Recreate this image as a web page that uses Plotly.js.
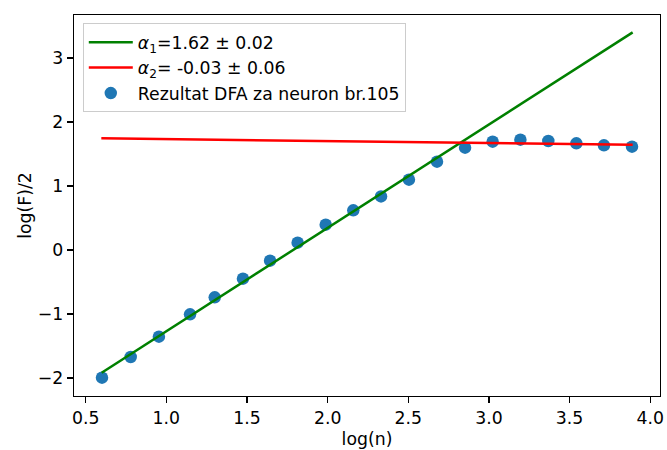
<!DOCTYPE html>
<html>
<head>
<meta charset="utf-8">
<script src="https://cdn.plot.ly/plotly-3.0.1.min.js"></script>
<style>html,body{margin:0;padding:0;background:#fff;}#chart{width:667px;height:450px;}</style>
</head>
<body>
<div id="chart"></div>
<script>
// Data
const logN = [0.601, 0.779, 0.954, 1.147, 1.300, 1.475, 1.643, 1.814, 1.988, 2.159,
              2.331, 2.504, 2.678, 2.852, 3.023, 3.195, 3.368, 3.542, 3.713, 3.887];
const logF = [-1.995, -1.672, -1.354, -1.005, -0.740, -0.448, -0.167, 0.115, 0.396, 0.620,
              0.838, 1.099, 1.380, 1.599, 1.693, 1.724, 1.703, 1.667, 1.636, 1.615];
const fit1X = [0.599, 3.891];
const fit1Y = [-1.917, 3.400];
const fit2X = [0.597, 3.891];
const fit2Y = [1.745, 1.646];
const labels = [
  '<i>α</i><sub>1</sub>=1.62 ± 0.02',
  '<i>α</i><sub>2</sub>= -0.03 ± 0.06',
  'Rezultat DFA za neuron br.105'
];
const xTicks = [0.5, 1.0, 1.5, 2.0, 2.5, 3.0, 3.5, 4.0];
const xTickText = ['0.5', '1.0', '1.5', '2.0', '2.5', '3.0', '3.5', '4.0'];
const yTicks = [-2, -1, 0, 1, 2, 3];

const FONT = 'DejaVu Sans, sans-serif';
const FS = 17.3;

const traces = [
  {x: logN, y: logF, mode: 'markers', type: 'scatter', name: labels[2], legendrank: 3,
   marker: {color: '#1f77b4', size: 12.5}},
  {x: fit1X, y: fit1Y, mode: 'lines', type: 'scatter', name: labels[0], legendrank: 1,
   line: {color: '#008000', width: 2.5}},
  {x: fit2X, y: fit2Y, mode: 'lines', type: 'scatter', name: labels[1], legendrank: 2,
   line: {color: '#ff0000', width: 2.5}}
];

const axisCommon = {
  showline: true, linecolor: '#000', linewidth: 1.3, mirror: true,
  ticks: 'outside', ticklen: 6, tickwidth: 1.3, tickcolor: '#000',
  showgrid: false, zeroline: false,
  tickfont: {family: FONT, size: FS, color: '#000'}
};

const layout = {
  width: 667, height: 450,
  margin: {l: 74, r: 7, t: 15, b: 54},
  paper_bgcolor: '#fff', plot_bgcolor: '#fff',
  font: {family: FONT, size: FS, color: '#000'},
  showlegend: true,
  legend: {
    x: 0.015, y: 0.978, xanchor: 'left', yanchor: 'top',
    bgcolor: 'rgba(255,255,255,0.8)', bordercolor: '#cccccc', borderwidth: 1,
    itemwidth: 44,
    font: {family: FONT, size: FS, color: '#000'}
  },
  xaxis: Object.assign({}, axisCommon, {
    range: [0.4275, 4.0605], tickmode: 'array', tickvals: xTicks, ticktext: xTickText,
    title: {text: 'log(n)', font: {family: FONT, size: FS}, standoff: 5}
  }),
  yaxis: Object.assign({}, axisCommon, {
    range: [-2.281, 3.672], tickmode: 'array', tickvals: yTicks,
    title: {text: 'log(F)/2', font: {family: FONT, size: FS}, standoff: 1}
  })
};

Plotly.newPlot('chart', traces, layout, {displayModeBar: false, staticPlot: true});
</script>
</body>
</html>
